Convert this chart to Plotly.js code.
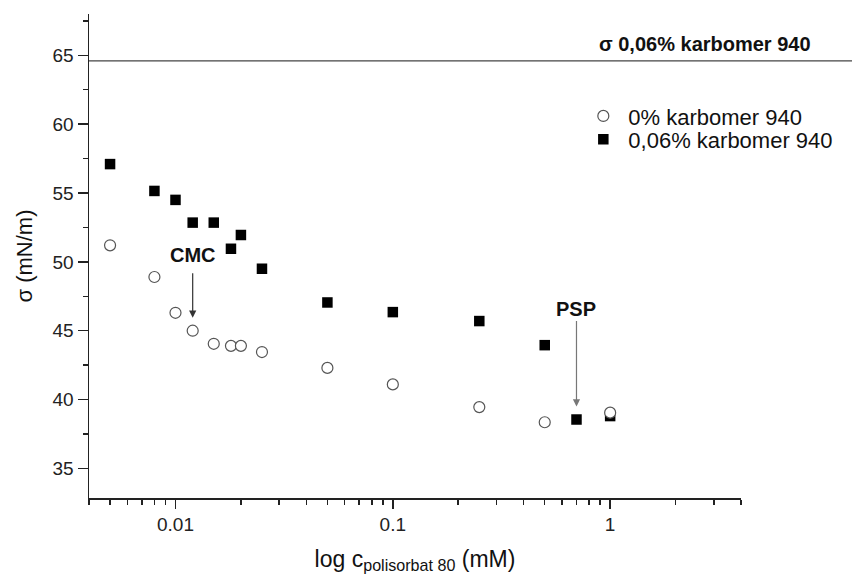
<!DOCTYPE html>
<html><head><meta charset="utf-8">
<script src="https://cdn.plot.ly/plotly-3.0.1.min.js"></script>
<style>html,body{margin:0;padding:0;background:#fff}#chart{width:852px;height:579px}</style>
</head><body><div id="chart"></div>
<script>
// Concentration of polisorbat 80 (mM) and surface tension sigma (mN/m)
const conc0 = [0.005, 0.008, 0.01, 0.012, 0.015, 0.018, 0.02, 0.025, 0.05, 0.1, 0.25, 0.5, 1];
const sigma0 = [51.2, 48.9, 46.3, 45.0, 44.05, 43.9, 43.9, 43.45, 42.3, 41.1, 39.45, 38.35, 39.05];
const conc06 = [0.005, 0.008, 0.01, 0.012, 0.015, 0.018, 0.02, 0.025, 0.05, 0.1, 0.25, 0.5, 0.7, 1];
const sigma06 = [57.1, 55.15, 54.5, 52.85, 52.85, 50.95, 51.95, 49.5, 47.05, 46.35, 45.7, 43.95, 38.55, 38.8];
const sigmaCarbomer = 64.6;           // sigma of 0,06% karbomer 940
const cmc = {x: 0.012, y: 45.0};      // CMC marker
const psp = {x: 0.7, y: 38.55};       // PSP marker
const xTickVals = [0.01, 0.1, 1];
const xTickText = ['0.01', '0.1', '1'];
const names = ['0% karbomer 940', '0,06% karbomer 940'];

const font = 'Liberation Sans, Arial, Helvetica, sans-serif';
const minorX = [];
[0.001, 0.01, 0.1, 1].forEach(d => { for (let k = 2; k <= 9; k++) { const v = +(k * d).toPrecision(3); if (v >= 0.004 && v <= 4) minorX.push(v); } });

const yRange = [32.85, 68];
const refY = (sigmaCarbomer - yRange[0]) / (yRange[1] - yRange[0]);

const traces = [
  {x: conc06, y: sigma06, type: 'scatter', mode: 'markers', name: names[1], legend: 'legend2',
   marker: {symbol: 'square', size: 10.5, color: '#000'}},
  {x: conc0, y: sigma0, type: 'scatter', mode: 'markers', name: names[0], legend: 'legend',
   marker: {symbol: 'circle', size: 11, color: '#fff', line: {color: '#555', width: 1.2}}}
];

const legendCommon = {xanchor: 'left', yanchor: 'middle', bgcolor: 'rgba(0,0,0,0)',
  font: {family: font, size: 22, color: '#111'}, itemwidth: 40};

const layout = {
  width: 852, height: 579,
  margin: {l: 89, r: 111, t: 14, b: 81},
  paper_bgcolor: '#fff', plot_bgcolor: '#fff',
  font: {family: font, color: '#222'},
  showlegend: true,
  legend: Object.assign({x: 0.7505, y: 0.789}, legendCommon),
  legend2: Object.assign({x: 0.7505, y: 0.741}, legendCommon),
  xaxis: {
    type: 'log', range: [Math.log10(0.004), Math.log10(4)],
    tickmode: 'array', tickvals: xTickVals, ticktext: xTickText,
    ticks: 'outside', ticklen: 9, tickwidth: 1.5, tickcolor: '#222',
    minor: {tickmode: 'array', tickvals: minorX, ticks: 'outside', ticklen: 5, tickwidth: 1.5, tickcolor: '#222', showgrid: false},
    showline: true, linecolor: '#222', linewidth: 1.5, showgrid: false, zeroline: false,
    tickfont: {family: font, size: 19, color: '#222'},
    title: {text: 'log c<sub>polisorbat 80</sub> (mM)', font: {family: font, size: 23, color: '#111'}, standoff: 16},
    automargin: false
  },
  yaxis: {
    range: yRange, dtick: 5, tick0: 0,
    ticks: 'outside', ticklen: 10, tickwidth: 1.5, tickcolor: '#222',
    minor: {dtick: 2.5, tick0: 0, ticks: 'outside', ticklen: 5, tickwidth: 1.5, tickcolor: '#222', showgrid: false},
    showline: true, linecolor: '#222', linewidth: 1.5, showgrid: false, zeroline: false,
    tickfont: {family: font, size: 19, color: '#222'},
    title: {text: 'σ (mN/m)', font: {family: font, size: 22, color: '#111'}, standoff: 14},
    automargin: false
  },
  shapes: [
    {type: 'line', xref: 'paper', yref: 'paper', x0: 0, x1: 1.2, y0: refY, y1: refY,
     line: {color: '#444', width: 1.2}}
  ],
  annotations: [
    {xref: 'paper', yref: 'paper', x: 0.945, y: refY,
     yshift: 17, text: '<b>σ 0,06% karbomer 940</b>', showarrow: false, xanchor: 'center', yanchor: 'middle',
     font: {family: font, size: 20, color: '#111'}},
    {x: Math.log10(cmc.x), y: cmc.y, text: '<b>CMC</b>', showarrow: true, ax: 0, ay: -76, standoff: 13, startstandoff: 6,
     arrowhead: 2, arrowsize: 1.2, arrowwidth: 1.2, arrowcolor: '#333',
     font: {family: font, size: 20, color: '#111'}},
    {x: Math.log10(psp.x), y: psp.y, text: '<b>PSP</b>', showarrow: true, ax: 0, ay: -111, standoff: 13, startstandoff: 0,
     arrowhead: 2, arrowsize: 1.2, arrowwidth: 1.2, arrowcolor: '#777',
     font: {family: font, size: 20, color: '#111'}}
  ]
};

Plotly.newPlot('chart', traces, layout, {displayModeBar: false, staticPlot: true});
</script></body></html>
